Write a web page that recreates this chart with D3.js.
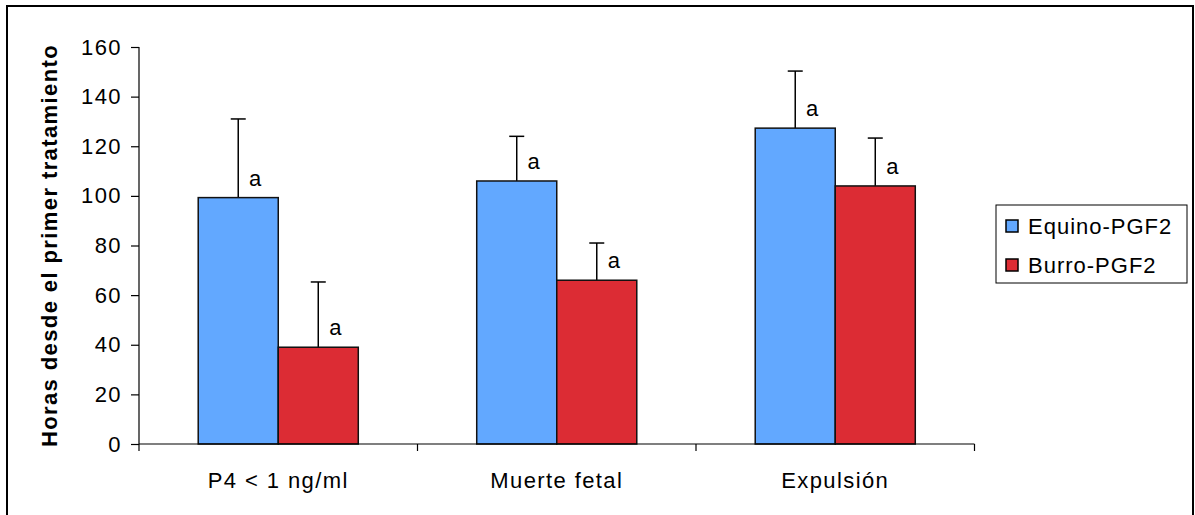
<!DOCTYPE html>
<html>
<head>
<meta charset="utf-8">
<script src="https://cdn.jsdelivr.net/npm/d3@7"></script>
<style>
  body { margin: 0; background: #fff; }
  text { font-family: "Liberation Sans", Arial, sans-serif; }
</style>
</head>
<body>
<div id="chart"></div>
<script>
// data
var categories = ["P4 < 1 ng/ml", "Muerte fetal", "Expulsión"];
var seriesNames = ["Equino-PGF2", "Burro-PGF2"];
var equinoMean = [99.3, 106, 127.3];
var equinoErr = [31.7, 18, 23];
var burroMean = [39, 66, 104];
var burroErr = [26.3, 15, 19.3];
var letters = [["a", "a", "a"], ["a", "a", "a"]];
var yTicks = [0, 20, 40, 60, 80, 100, 120, 140, 160];
var colors = ["#62a8ff", "#dc2c34"];

var w = 1195, h = 515;
var svg = d3.select("#chart").append("svg")
  .attr("width", w).attr("height", h);

// outer frame
svg.append("rect")
  .attr("x", 7).attr("y", 6)
  .attr("width", 1186).attr("height", 520)
  .attr("fill", "none").attr("stroke", "#000").attr("stroke-width", 2);

var pLeft = 139, pRight = 974.5, pTop = 47, pBottom = 444;
var fs = "22px", ls = "1.4px";

var x0 = d3.scaleBand().domain(categories).range([pLeft, pRight]);
var x1 = d3.scaleBand().domain(seriesNames)
  .range([0, x0.bandwidth()]).paddingInner(0).paddingOuter(0.74);
var y = d3.scaleLinear().domain([0, 160]).range([pBottom, pTop]);

// build rows from arrays
var flat = [];
categories.forEach(function(c, i) {
  flat.push({ cat: c, s: seriesNames[0], v: equinoMean[i], e: equinoErr[i], l: letters[0][i], k: 0 });
  flat.push({ cat: c, s: seriesNames[1], v: burroMean[i], e: burroErr[i], l: letters[1][i], k: 1 });
});

// error bars (upper only)
var eb = svg.append("g").attr("stroke", "#000").attr("stroke-width", 1.5);
flat.forEach(function(d) {
  var cx = x0(d.cat) + x1(d.s) + x1.bandwidth() / 2;
  eb.append("line")
    .attr("x1", cx).attr("x2", cx)
    .attr("y1", y(d.v)).attr("y2", y(d.v + d.e));
  eb.append("line")
    .attr("x1", cx - 7.5).attr("x2", cx + 7.5)
    .attr("y1", y(d.v + d.e)).attr("y2", y(d.v + d.e));
});

// bars
svg.append("g").selectAll("rect")
  .data(flat).enter().append("rect")
  .attr("x", d => x0(d.cat) + x1(d.s))
  .attr("y", d => y(d.v))
  .attr("width", x1.bandwidth())
  .attr("height", d => y(0) - y(d.v))
  .attr("fill", d => colors[d.k])
  .attr("stroke", "#111").attr("stroke-width", 1.5);

// significance letters
svg.append("g").selectAll("text")
  .data(flat).enter().append("text")
  .attr("x", d => x0(d.cat) + x1(d.s) + x1.bandwidth() / 2 + 17)
  .attr("y", d => y(d.v) - 12)
  .attr("text-anchor", "middle")
  .style("font-size", fs)
  .text(d => d.l);

// y axis
var yAxis = d3.axisLeft(y).tickValues(yTicks).tickSize(8).tickPadding(4);
var gy = svg.append("g").attr("transform", "translate(" + pLeft + ",0)").call(yAxis);
gy.select(".domain").attr("d", "M0," + pTop + "V" + pBottom).attr("stroke-width", 1.2);
gy.selectAll("line").attr("stroke-width", 1.2);
gy.selectAll("text").style("font-size", fs).style("letter-spacing", ls)
  .attr("fill", "#000").attr("font-family", null).attr("dx", "-5");

// x axis
var gx = svg.append("g").attr("transform", "translate(0," + pBottom + ")");
gx.append("line").attr("x1", pLeft).attr("x2", pRight)
  .attr("stroke", "#000").attr("stroke-width", 1.2);
var bounds = categories.map(c => x0(c)).concat([pRight]);
gx.selectAll(".bt").data(bounds).enter().append("line")
  .attr("x1", d => d).attr("x2", d => d)
  .attr("y1", 0).attr("y2", 7)
  .attr("stroke", "#000").attr("stroke-width", 1.2);
gx.selectAll(".lbl").data(categories).enter().append("text")
  .attr("x", d => x0(d) + x0.bandwidth() / 2)
  .attr("y", 44)
  .attr("text-anchor", "middle")
  .style("font-size", fs).style("letter-spacing", ls)
  .text(d => d);

// y title
svg.append("text")
  .attr("transform", "translate(57," + ((pTop + pBottom) / 2) + ") rotate(-90)")
  .attr("text-anchor", "middle")
  .style("font-size", "22px").style("font-weight", "bold").style("letter-spacing", "1.4px")
  .text("Horas desde el primer tratamiento");

// legend
var lg = svg.append("g").attr("transform", "translate(996,205)");
lg.append("rect").attr("width", 191).attr("height", 78)
  .attr("fill", "#fff").attr("stroke", "#000").attr("stroke-width", 1);
seriesNames.forEach(function(s, i) {
  lg.append("rect").attr("x", 10).attr("y", 15 + i * 39)
    .attr("width", 12).attr("height", 12)
    .attr("fill", colors[i]).attr("stroke", "#000").attr("stroke-width", 1.5);
  lg.append("text").attr("x", 32).attr("y", 29 + i * 39)
    .style("font-size", fs).style("letter-spacing", "1px").text(s);
});
</script>
</body>
</html>
